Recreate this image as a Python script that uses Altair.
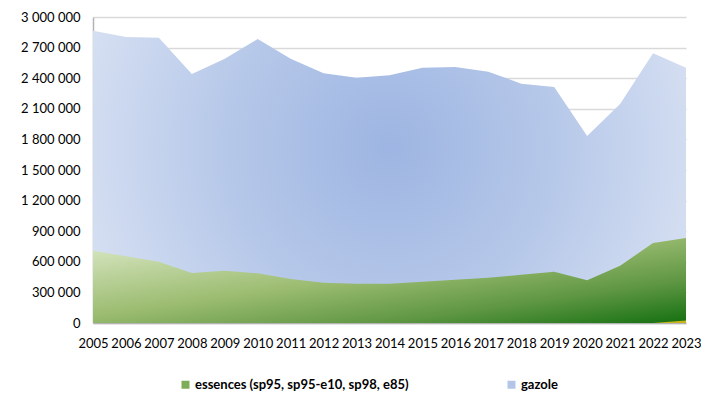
import altair as alt
import pandas as pd

years = list(range(2005, 2024))
# values (m3)
essences = [709000, 654000, 601000, 490000, 513000, 487000, 431000, 395000, 385000, 385000,
            405000, 425000, 444000, 474000, 503000, 418000, 562000, 784000, 808000]
gazole = [2157000, 2150000, 2196000, 1951000, 2078000, 2297000, 2160000, 2053000, 2020000, 2043000,
          2098000, 2085000, 2020000, 1872000, 1811000, 1415000, 1585000, 1860000, 1670000]
autre = [0, 0, 0, 0, 0, 0, 0, 0, 0, 0, 0, 0, 0, 0, 0, 0, 0, 0, 25000]
y_ticks = list(range(0, 3000001, 300000))

series_names = ["essences (sp95, sp95-e10, sp98, e85)", "gazole"]
series_colors = ["#7fac57", "#b4c6e7"]

df = pd.DataFrame({"year": years, "essences": essences, "gazole": gazole, "autre": autre})
legend_df = pd.DataFrame({"serie": series_names})

FONT = "Lato"

base = alt.Chart(df).transform_calculate(
    green_top="datum.autre + datum.essences",
    total="datum.autre + datum.essences + datum.gazole",
)

x_scale = alt.Scale(domain=[2005, 2023], nice=False, zero=False)
x_axis = alt.Axis(values=years, format="d", title=None, grid=False, ticks=False,
                  labelPadding=14, labelFontSize=13, labelFont=FONT, labelColor="#000000",
                  domainColor="#b3b3b3", domainWidth=1.5, labelOverlap=False,
                  labelFlush=False)
y_scale = alt.Scale(domain=[0, 3000000], nice=False)
y_axis = alt.Axis(values=y_ticks, title=None,
                  labelExpr="replace(replace(format(datum.value, ','), ',', ' '), ',', ' ')",
                  ticks=False, labelPadding=13, labelFontSize=13, labelFont=FONT,
                  labelColor="#000000", gridColor="#d9d9d9", gridWidth=1.3,
                  domainColor="#b3b3b3", domainWidth=1.5, labelOverlap=False,
                  labelFlush=False)

blue_fill = {
    "gradient": "radial",
    "x1": 0.5, "y1": 0.45, "r1": 0,
    "x2": 0.5, "y2": 0.45, "r2": 0.62,
    "stops": [
        {"offset": 0, "color": "#9db5e2"},
        {"offset": 0.45, "color": "#b6c8e9"},
        {"offset": 1, "color": "#e0e7f5"},
    ],
}
green_fill = {
    "gradient": "linear",
    "x1": 0, "y1": 0, "x2": 1, "y2": 1,
    "stops": [
        {"offset": 0, "color": "#dce9c9"},
        {"offset": 0.45, "color": "#9dbd72"},
        {"offset": 0.75, "color": "#5e9642"},
        {"offset": 1, "color": "#147010"},
    ],
}

blue = base.mark_area(color=blue_fill, strokeWidth=0).encode(
    x=alt.X("year:Q", scale=x_scale, axis=x_axis),
    y=alt.Y("total:Q", scale=y_scale, axis=y_axis),
)
green = base.mark_area(color=green_fill, strokeWidth=0).encode(
    x=alt.X("year:Q", scale=x_scale, axis=x_axis),
    y=alt.Y("green_top:Q", scale=y_scale, axis=y_axis),
)
yellow = base.mark_area(color="#c9b41a", strokeWidth=0).encode(
    x=alt.X("year:Q", scale=x_scale, axis=x_axis),
    y=alt.Y("autre:Q", scale=y_scale, axis=y_axis),
)

legend_layer = alt.Chart(legend_df).mark_square(opacity=0, size=64).encode(
    color=alt.Color(
        "serie:N",
        scale=alt.Scale(domain=series_names, range=series_colors),
        legend=alt.Legend(
            title=None, orient="none", legendX=86, legendY=361, direction="horizontal",
            columns=2, columnPadding=96, symbolType="square", symbolSize=64,
            symbolOpacity=1, symbolStrokeWidth=0, labelFont=FONT, labelFontSize=13,
            labelFontWeight="bold", labelColor="#000000", labelOffset=3, padding=0,
            labelLimit=400,
        ),
    )
)

chart = alt.layer(blue, green, yellow, legend_layer).properties(
    width=593, height=306,
    autosize=alt.AutoSizeParams(type="none"),
    padding={"left": 85, "top": 9, "right": 15, "bottom": 69},
).configure_view(stroke=None)

chart.save("out.html", embed_options={"renderer": "svg", "actions": False})
